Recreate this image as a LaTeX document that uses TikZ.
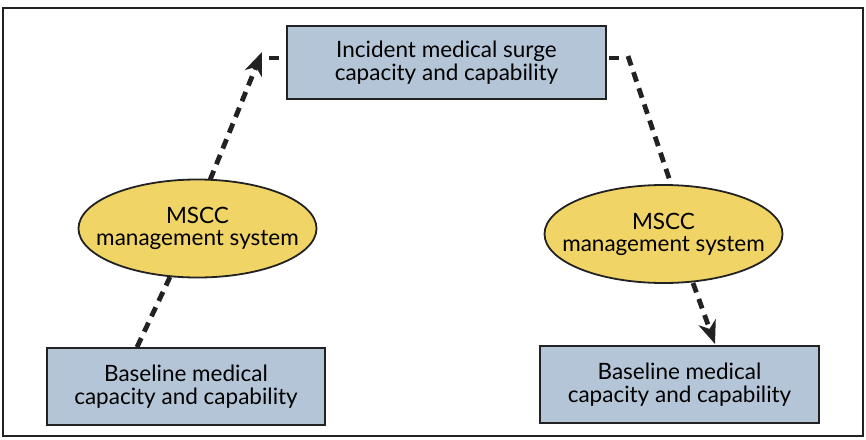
\documentclass[tikz,border=0pt]{standalone}
\usepackage{fontspec}
\setmainfont{Lato}
\usetikzlibrary{shapes.geometric,arrows.meta}
\definecolor{boxfill}{HTML}{B4C5D7}
\definecolor{ellfill}{HTML}{F0D466}
\definecolor{edge}{HTML}{222222}
\begin{document}
\begin{tikzpicture}[x=1pt,y=-1pt,
  boxnode/.style={draw=edge,line width=1.8pt,fill=boxfill,minimum width=#1,minimum height=75pt,align=center,font=\fontsize{22.5}{22.5}\selectfont,inner sep=0pt},
  ellnode/.style={ellipse,draw=edge,line width=1.8pt,fill=ellfill,minimum width=238pt,minimum height=98pt,align=center,font=\fontsize{22.5}{22}\selectfont,inner xsep=-20pt,inner ysep=0pt},
  conn/.style={line width=4.8pt,dash pattern=on 10pt off 7pt,edge},
  tip/.style={-{Stealth[length=23pt,width=18pt,inset=7pt]}}]
\useasboundingbox (0,0) rectangle (866,439);
\draw[line width=1.5pt,edge] (3,8) rectangle (863,436);
\node[boxnode=319pt,minimum height=73pt] (top) at (446.5,62.5) {Incident medical surge\\capacity and capability};
\node[boxnode=278pt,minimum height=77pt] (bl) at (186,386.5) {Baseline medical\\capacity and capability};
\node[boxnode=279pt,minimum height=77pt] (br) at (679.5,384.5) {Baseline medical\\capacity and capability};
\node[ellnode] (el) at (197.5,228.5) {MSCC\\management system};
\node[ellnode] (er) at (663.5,234) {MSCC\\management system};
\coordinate (la) at (262,52);
\coordinate (lh1) at (279,58);
\coordinate (lh2) at (269,58);
\coordinate (rh1) at (609,58);
\coordinate (rh2) at (619,58);
\coordinate (rb) at (715,344);
\draw[conn] (bl.north -| 137,0) -- (170,277);
\draw[conn,tip] (210,180) -- (la);
\draw[conn,dash pattern=on 10pt off 20pt] (lh1) -- (lh2);
\draw[conn,dash pattern=on 10pt off 20pt] (rh1) -- (rh2);
\draw[conn] (628,56) -- (er.north -| 671,0);
\draw[conn,tip] (693,283) -- (rb);
\end{tikzpicture}
\end{document}
